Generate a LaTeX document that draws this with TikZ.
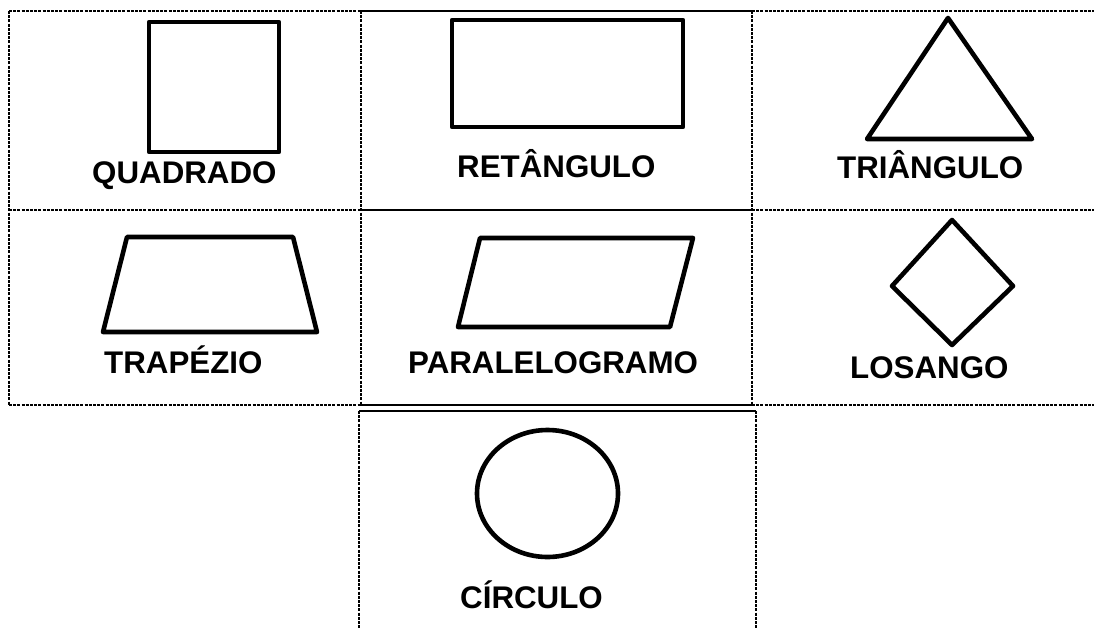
\documentclass[tikz,border=0pt]{standalone}
\usepackage{fontspec}
\setmainfont{Liberation Sans}
\begin{document}
\begin{tikzpicture}[x=1pt,y=-1pt,
  grid/.style={line width=1.2pt,dash pattern=on 3pt off 1.2pt},
  gridsolid/.style={line width=1.6pt},
  figline/.style={line width=4.6pt,line join=round},
  lbl/.style={anchor=base west,inner sep=0pt,font=\fontsize{31.3}{36}\selectfont\bfseries}]
\useasboundingbox (0,0) rectangle (1094,629);
% grid lines
\draw[grid] (9,11) -- (361,11) (9,210) -- (361,210) (9,405) -- (361,405);
\draw[grid] (752,11) -- (1094,11) (752,210) -- (1094,210) (752,405) -- (1094,405);
\draw[grid] (9,11) -- (9,405) (361,11) -- (361,405) (752,11) -- (752,405);
\draw[gridsolid] (361,11) -- (752,11) (361,210) -- (752,210) (361,405) -- (752,405);
\draw[gridsolid] (359,411) -- (756,411);
\draw[grid] (359,411) -- (359,629) (756,411) -- (756,629);
% shapes
\draw[figline] (149,22) rectangle (279,152);
\draw[figline] (452,20) rectangle (683,127);
\draw[figline] (948,18) -- (1032,139) -- (867,139) -- cycle;
\draw[figline] (127,237) -- (293,237) -- (317,332) -- (103,332) -- cycle;
\draw[figline] (480,238) -- (693,238) -- (670,327) -- (458,327) -- cycle;
\draw[figline] (952,220) -- (1013,286) -- (952,345) -- (892,286) -- cycle;
\draw[figline] (547.5,493.5) ellipse [x radius=70.5, y radius=63.5];
% labels
\node[lbl] (quadrado) at (92,183) {QUADRADO};
\node[lbl] (retangulo) at (457,177) {RETÂNGULO};
\node[lbl] (triangulo) at (837,178) {TRIÂNGULO};
\node[lbl] (trapezio) at (104,373) {TRAPÉZIO};
\node[lbl] (paralelogramo) at (408,373) {PARALELOGRAMO};
\node[lbl] (losango) at (850,378) {LOSANGO};
\node[lbl] (circulo) at (460,608) {CÍRCULO};
\end{tikzpicture}
\end{document}
